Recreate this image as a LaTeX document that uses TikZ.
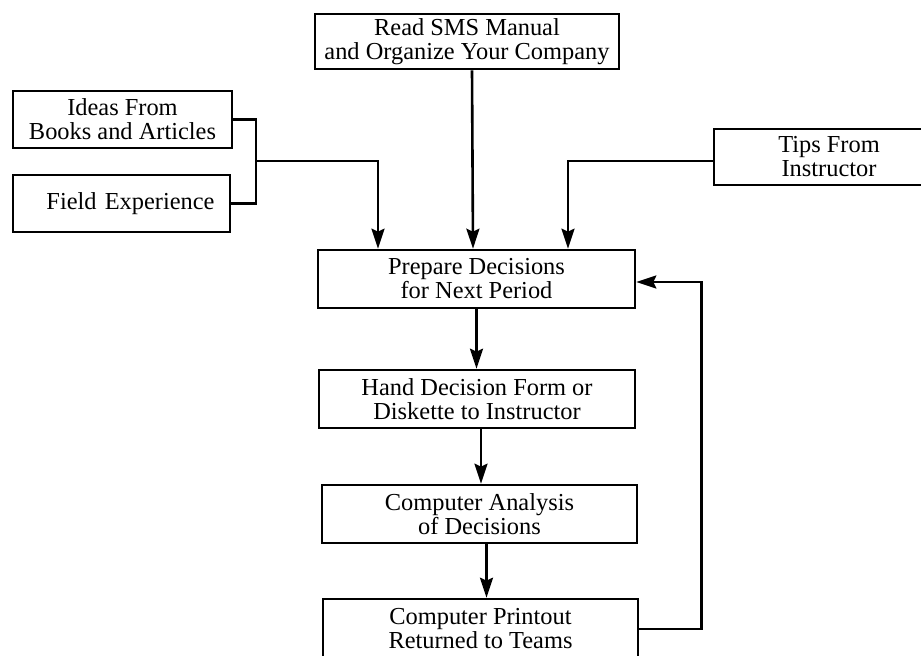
\documentclass[tikz,border=0pt]{standalone}
\usepackage{fontspec}
\setmainfont{Liberation Serif}
\usetikzlibrary{arrows.meta,calc}
\newcommand{\boxfont}{\fontsize{12.2}{12}\selectfont}
\begin{document}
\begin{tikzpicture}[x=0.5pt,y=-0.5pt,
    box/.style={draw, line width=1.3pt, inner sep=0pt, align=center, font=\boxfont},
    link/.style={line width=1.3pt},
    arr/.style={line width=1.3pt, -{Stealth[length=10pt,width=6.5pt,inset=1.5pt]}}]
                    \useasboundingbox (0,0) rectangle (921,656);
                    \node[box, minimum width=152pt, minimum height=27.5pt] (read) at (467,41.5) {Read SMS Manual\\and Organize Your Company};
                    \node[box, minimum width=109.5pt, minimum height=28.5pt] (ideas) at (122.5,119.5) {Ideas From\\Books and Articles};
                    \node[box, minimum width=108.5pt, minimum height=28.5pt, text width=93pt, align=right] (field) at (121.5,203.5) {Field Experience};
                    \node[box, minimum width=115pt, minimum height=28pt] (tips) at (829,157) {Tips From\\Instructor};
                    \node[box, minimum width=158.5pt, minimum height=29pt] (prep) at (476.5,279) {Prepare Decisions\\for Next Period};
                    \node[box, minimum width=158pt, minimum height=29pt] (hand) at (477,399) {Hand Decision Form or\\Diskette to Instructor};
                    \node[box, minimum width=157.5pt, minimum height=29pt] (anal) at (479.5,514) {Computer Analysis\\of Decisions};
                    \node[box, minimum width=157.5pt, minimum height=30pt] (print) at (480.5,629) {Computer Printout\\Returned to Teams};
                    \coordinate (join) at (256,161);
                    \draw[link] (ideas.east) -| (join) |- (field.east);
                    \draw[arr] (join) -| ($(prep.north)+(-98.5,0)$);
                    \draw[arr] ([xshift=2.5pt]read.south) -- ($(prep.north)+(-3.5,0)$);
                    \draw[arr] ([yshift=-2pt]tips.west) -| ($(prep.north)+(91.5,0)$);
                    \draw[arr] (prep.south) -- (prep.south |- hand.north);
                    \draw[arr] ([xshift=2pt]hand.south) -- ([xshift=2pt]hand.south |- anal.north);
                    \draw[arr] ([xshift=3.5pt]anal.south) -- ([xshift=3.5pt]anal.south |- print.north);
                    \draw[arr] (print.east) -- ++(62,0) |- ([yshift=-1.5pt]prep.east);
\end{tikzpicture}
\end{document}
